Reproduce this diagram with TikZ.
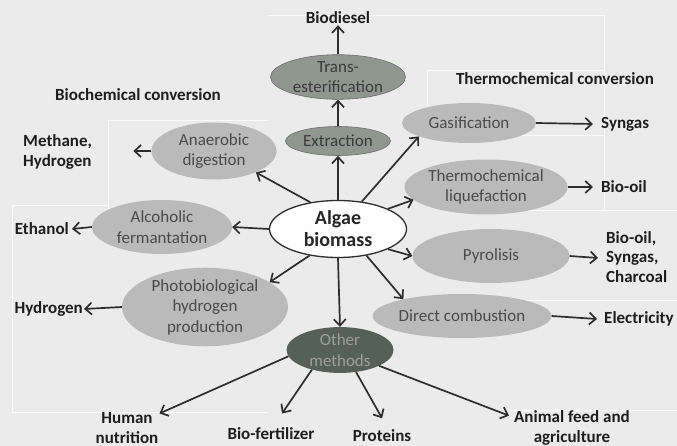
\documentclass[tikz,border=0pt]{standalone}
\usepackage{fontspec}
\setmainfont{Carlito}
\usetikzlibrary{shapes.geometric,arrows.meta}
\definecolor{bg}{HTML}{EBEBEB}
\definecolor{lightell}{HTML}{BABABA}
\definecolor{midell}{HTML}{8F978F}
\definecolor{darkell}{HTML}{56605A}
\definecolor{ntext}{HTML}{4A4A4A}
\definecolor{ltext}{HTML}{1E1E1E}
\definecolor{arrcol}{HTML}{2E2E2E}
\tikzset{
  ell/.style={ellipse, inner sep=0pt, fill=lightell, text=ntext, font=\fontsize{17}{20.5}\selectfont, align=center},
  midnode/.style={ell, fill=midell, draw=arrcol!70, line width=0.6pt, text=ntext!80!black},
  lbl/.style={inner sep=1pt, text=ltext, font=\bfseries\fontsize{17}{19.5}\selectfont},
  arr/.style={draw=arrcol, line width=1.7pt, -{Straight Barb[length=6.5pt,width=12pt]}},
  faint/.style={draw=white, opacity=0.7, line width=0.8pt}
}
\begin{document}
\begin{tikzpicture}[x=1pt,y=-1pt]
\fill[bg] (0,0) rectangle (677,446);
\useasboundingbox (0,0) rectangle (677,446);
% faint background boxes
\draw[faint] (268,15) -- (604,15) -- (604,70);
\draw[faint] (427,70) rectangle (604,135);
\draw[faint] (108,120) -- (268,120);
\draw[faint] (108,120) -- (108,205);
\draw[faint] (12,205) -- (108,205) -- (108,210);
\draw[faint] (12,205) -- (12,412) -- (268,412);
\draw[faint] (604,135) -- (604,210);
\draw[faint] (510,210) -- (677,210);
\draw[faint] (510,300) -- (677,300);
\draw[faint] (510,410) -- (677,410);

% central node
\node[ellipse, draw=arrcol, line width=1.3pt, fill=white!96!bg, minimum width=137pt, minimum height=57pt, inner sep=0pt, align=center, text=ltext!80!ntext, font=\bfseries\fontsize{20}{22}\selectfont] (algae) at (338,229) {Algae\\biomass};

% upper chain
\node[midnode, minimum width=105pt, minimum height=29pt] (extr) at (338,141) {Extraction};
\node[midnode, minimum width=135pt, minimum height=43pt] (trans) at (338,77) {Trans-\\esterification};
\node[lbl] (biodiesel) at (338,18) {Biodiesel};

% biochemical side
\node[lbl] (biochem) at (138,95) {Biochemical conversion};
\node[ell, minimum width=125pt, minimum height=57pt] (anaer) at (214,151) {Anaerobic\\digestion};
\node[lbl, align=left, anchor=west] (methane) at (22,152) {Methane,\\Hydrogen};
\node[ell, minimum width=140pt, minimum height=54pt] (alco) at (162,227) {Alcoholic\\fermantation};
\node[lbl, anchor=east] (ethanol) at (70,229) {Ethanol};
\node[ell, minimum width=166pt, minimum height=73pt] (photo) at (205,307) {Photobiological\\hydrogen\\production};
\node[lbl, anchor=east] (hydrogen) at (84,309) {Hydrogen};

% thermochemical side
\node[lbl] (thermo) at (555,79) {Thermochemical conversion};
\node[ell, minimum width=134pt, minimum height=40pt] (gasif) at (469,123) {Gasification};
\node[lbl, anchor=west] (syngas) at (600,124) {Syngas};
\node[ell, minimum width=162pt, minimum height=55pt] (liq) at (486,187) {Thermochemical\\liquefaction};
\node[lbl, anchor=west] (biooil) at (600,187) {Bio-oil};
\node[ell, minimum width=157pt, minimum height=54pt] (pyro) at (491,256) {Pyrolisis};
\node[lbl, align=left, anchor=west] (products) at (605,257) {Bio-oil,\\Syngas,\\Charcoal};
\node[ell, minimum width=157pt, minimum height=44pt] (dc) at (462,316) {Direct combustion};
\node[lbl, anchor=west] (elec) at (603,319) {Electricity};

% other methods
\node[ell, fill=darkell, text=lightell!70!darkell, minimum width=107pt, minimum height=45pt] (other) at (340,350) {Other\\methods};
\node[lbl, align=center] (human) at (127,428) {Human\\nutrition};
\node[lbl] (biofert) at (271,434) {Bio-fertilizer};
\node[lbl] (proteins) at (382,436) {Proteins};
\node[lbl, align=center] (animal) at (572,428) {Animal feed and\\agriculture};

% connectors
\draw[arr] (algae.north) -- (extr.south);
\draw[arr] (extr.north) -- (trans.south);
\draw[arr] (trans.north) -- (biodiesel.south);
\draw[arr] (algae.136) -- (anaer.333);
\draw[arr] (anaer.west) -- ([xshift=-18pt]anaer.west);
\draw[arr] (algae.west) -- (alco.east);
\draw[arr] (alco.west) -- ([xshift=2pt]ethanol.east);
\draw[arr] (algae.223) -- (photo.21);
\draw[arr] (photo.west) -- ([xshift=0pt]hydrogen.east);
\draw[arr] (algae.south) -- (other.north);
\draw[arr] (algae.49) -- (gasif.195);
\draw[arr] (gasif.east) -- ([xshift=-7pt]syngas.west);
\draw[arr] (algae.22) -- (liq.190);
\draw[arr] (liq.east) -- ([xshift=-7pt]biooil.west);
\draw[arr] (algae.338) -- (pyro.west);
\draw[arr] (pyro.east) -- ([xshift=-7pt,yshift=-1pt]products.west);
\draw[arr] (algae.317) -- (dc.164);
\draw[arr] (dc.east) -- ([xshift=-6pt]elec.west);
\draw[arr] (other.187) -- ([yshift=-2pt]human.north east);
\draw[arr, shorten >=16pt] (other.215) -- ([xshift=2pt]biofert.north);
\draw[arr, shorten >=12pt] (other.306) -- ([xshift=6pt]proteins.north);
\draw[arr] (other.338) -- ([xshift=-4pt,yshift=-6pt]animal.north west);
\end{tikzpicture}
\end{document}
